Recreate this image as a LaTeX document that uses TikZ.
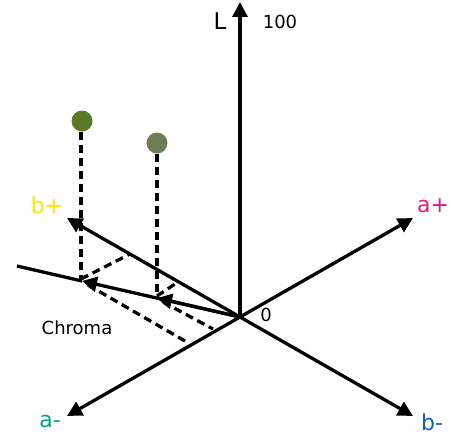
\documentclass[tikz,border=0pt]{standalone}
\usepackage{fontspec}
\setmainfont{DejaVu Sans}
\usetikzlibrary{arrows.meta}
\definecolor{dotA}{RGB}{92,122,38}
\definecolor{dotB}{RGB}{110,125,85}
\definecolor{bplus}{RGB}{255,228,0}
\definecolor{aplus}{RGB}{232,25,125}
\definecolor{aminus}{RGB}{0,165,126}
\definecolor{bminus}{RGB}{14,99,181}
\tikzset{
  axisline/.style={line width=3.3pt,-{Triangle[length=15pt,width=15pt]}},
  plainline/.style={line width=3.3pt},
  dashline/.style={line width=3.3pt,dash pattern=on 8pt off 5pt},
  colordot/.style={circle,inner sep=0pt,minimum size=21pt},
  lbl/.style={inner sep=0pt,font=\fontsize{22}{26}\selectfont},
  smalllbl/.style={inner sep=0pt,font=\fontsize{18}{21}\selectfont}
}
\begin{document}
\begin{tikzpicture}[x=1pt,y=-1pt]
\useasboundingbox (0,0) rectangle (450,436);
\coordinate (O) at (240,317);
\coordinate (Ltip) at (240,2);
\coordinate (Ap) at (413,218);
\coordinate (Am) at (67,416);
\coordinate (Bp) at (67,218);
\coordinate (Bm) at (413,416);
\coordinate (C) at (17,266);
\coordinate (P1) at (82,281);
\coordinate (P2) at (157,298);
\coordinate (V1) at (81,279);
\coordinate (V2) at (157,296);
\coordinate (B1) at (130,254);
\coordinate (A1) at (185,341);
\coordinate (S1) at (88,285);
\coordinate (B2) at (178,282);
\coordinate (S2) at (163,302);
\coordinate (A2) at (213,329);
% axes
\draw[axisline] (O) -- (Ltip);
\draw[axisline] (O) -- (Ap);
\draw[axisline] (O) -- (Am);
\draw[axisline] (O) -- (Bp);
\draw[axisline] (O) -- (Bm);
% chroma
\draw[plainline] (P1) -- (C);
\draw[axisline] (O) -- (P1);
\draw[axisline] (O) -- (P2);
% dots
\node[colordot,fill=dotA] (D1) at (82,121) {};
\node[colordot,fill=dotB] (D2) at (157,143) {};
% dashed projections
\draw[dashline] (D1.south -| V1) -- (V1);
\draw[dashline] (D2.south -| V2) -- (V2);
\draw[dashline] (V1) -- (B1);
\draw[dashline] (S1) -- (A1);
\draw[dashline] (V2) -- (B2);
\draw[dashline] (S2) -- (A2);
% labels
\node[lbl,font=\fontsize{23}{27}\selectfont] (tL) at (220,21) {L};
\node[smalllbl] (t100) at (280,22) {100};
\node[smalllbl] (t0) at (266,315) {0};
\node[smalllbl] (tC) at (77,328) {Chroma};
\node[lbl,text=bplus] (tbp) at (47,205) {b+};
\node[lbl,text=aplus] (tap) at (433,206) {a+};
\node[lbl,text=aminus] (tam) at (50,421) {a-};
\node[lbl,text=bminus] (tbm) at (432,422) {b-};
\end{tikzpicture}
\end{document}
